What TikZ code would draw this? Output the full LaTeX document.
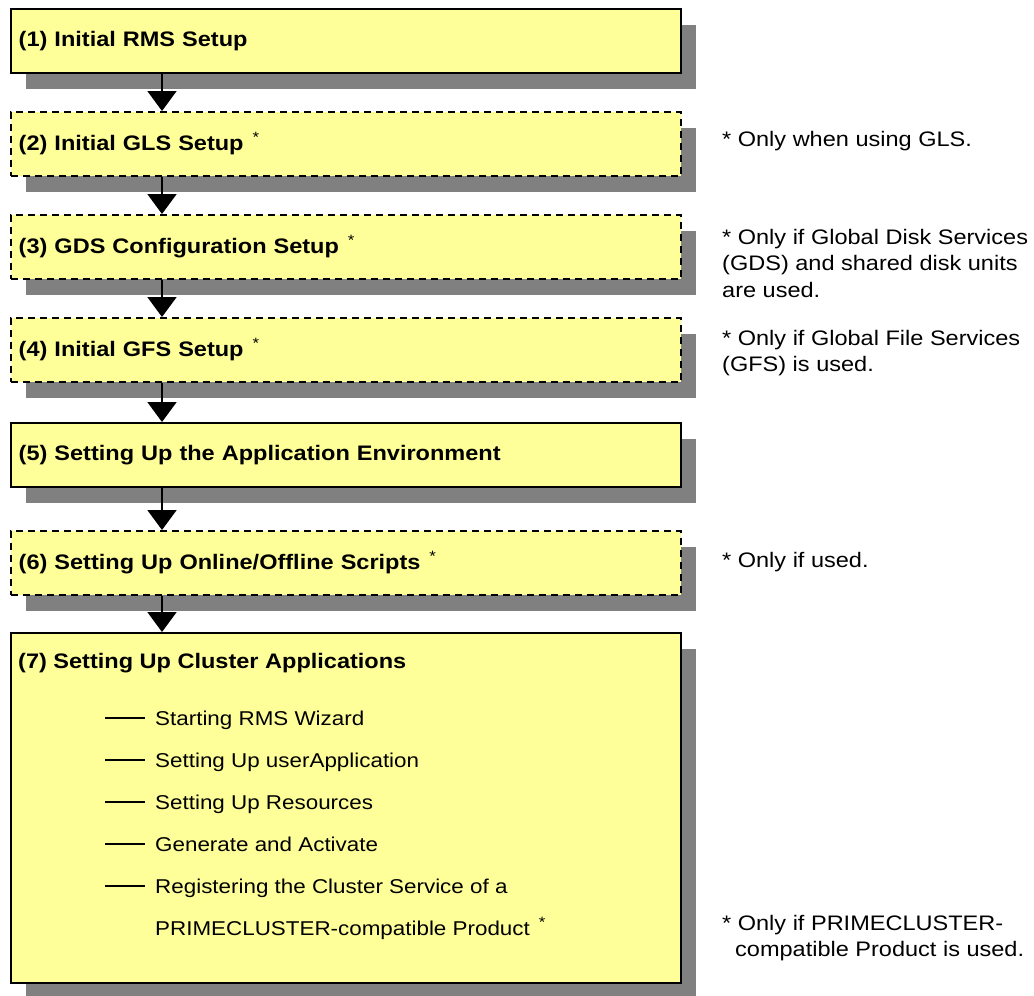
\documentclass[tikz,border=0pt]{standalone}
\usepackage{fontspec}
\setmainfont{Liberation Sans}[FakeStretch=1.12]
\usetikzlibrary{arrows.meta,positioning,shadows}
\definecolor{boxyellow}{HTML}{FFFF99}
\definecolor{shadowgray}{HTML}{808080}
\newcommand\optmark{\hspace{9pt}\raisebox{8pt}{\mdseries\fontsize{15}{15}\selectfont *}}

\begin{document}
\begin{tikzpicture}[x=1pt,y=-1pt,>={Triangle[width=29pt,length=20pt]},node distance=37.5pt,
  stepbox/.style={draw,line width=1.5pt,fill=boxyellow,minimum width=670pt,minimum height=64pt,
    text width=654pt,inner sep=8pt,align=left,font=\bfseries\fontsize{21}{25}\selectfont,
    drop shadow={shadow xshift=15pt,shadow yshift=-16pt,fill=shadowgray,opacity=1}},
  optbox/.style={stepbox,dash pattern=on 7pt off 5pt},
  note/.style={anchor=west,align=left,inner sep=0pt,font=\fontsize{21}{26.5}\selectfont},
  subitem/.style={anchor=base west,inner sep=0pt,font=\fontsize{20}{24}\selectfont},
  flow/.style={->,line width=2pt}]
\useasboundingbox (0,0) rectangle (1034,996);
% steps
\node[stepbox,anchor=north west] (s1) at (10,8) {(1) Initial RMS Setup};
\node[optbox,below=of s1] (s2) {(2) Initial GLS Setup\optmark};
\node[optbox,below=of s2] (s3) {(3) GDS Configuration Setup\optmark};
\node[optbox,below=of s3] (s4) {(4) Initial GFS Setup\optmark};
\node[stepbox,below=39.5pt of s4] (s5) {(5) Setting Up the Application Environment};
\node[optbox,below=42.5pt of s5] (s6) {(6) Setting Up Online/Offline Scripts\optmark};
\node[stepbox,minimum height=350pt,below=36.5pt of s6] (s7) {};
\node[anchor=west,inner sep=0pt,font=\bfseries\fontsize{21}{25}\selectfont] (t7) at ([xshift=8pt,yshift=-31pt]s7.north west) {(7) Setting Up Cluster Applications};
% sub-steps of (7)
\foreach \txt [count=\i, evaluate=\i as \dy using -51-42*\i] in {Starting RMS Wizard,Setting Up userApplication,Setting Up Resources,Generate and Activate,Registering the Cluster Service of a}{
  \node[subitem] (i\i) at ([xshift=145pt,yshift=\dy pt]s7.north west) {\txt};
  \draw[line width=1.2pt] ([xshift=-10pt,yshift=7pt]i\i.base west) -- ++(-40pt,0);
}
\node[subitem] (i6) at ([yshift=-42pt]i5.base west) {PRIMECLUSTER-compatible Product\optmark};
% arrows
\foreach \a/\b in {s1/s2,s2/s3,s3/s4,s4/s5,s5/s6,s6/s7}
  \draw[flow] ([xshift=152pt]\a.south west) -- ([xshift=152pt]\b.north west);
% notes
\node[note] (n2) at (722,141) {* Only when using GLS.};
\node[note] (n3) at (722,263) {* Only if Global Disk Services\\(GDS) and shared disk units\\are used.};
\node[note] (n4) at (722,353) {* Only if Global File Services\\(GFS) is used.};
\node[note] (n6) at (722,562) {* Only if used.};
\node[note] (n7) at (722,938) {* Only if PRIMECLUSTER-\\\hspace*{13pt}compatible Product is used.};
\end{tikzpicture}
\end{document}
